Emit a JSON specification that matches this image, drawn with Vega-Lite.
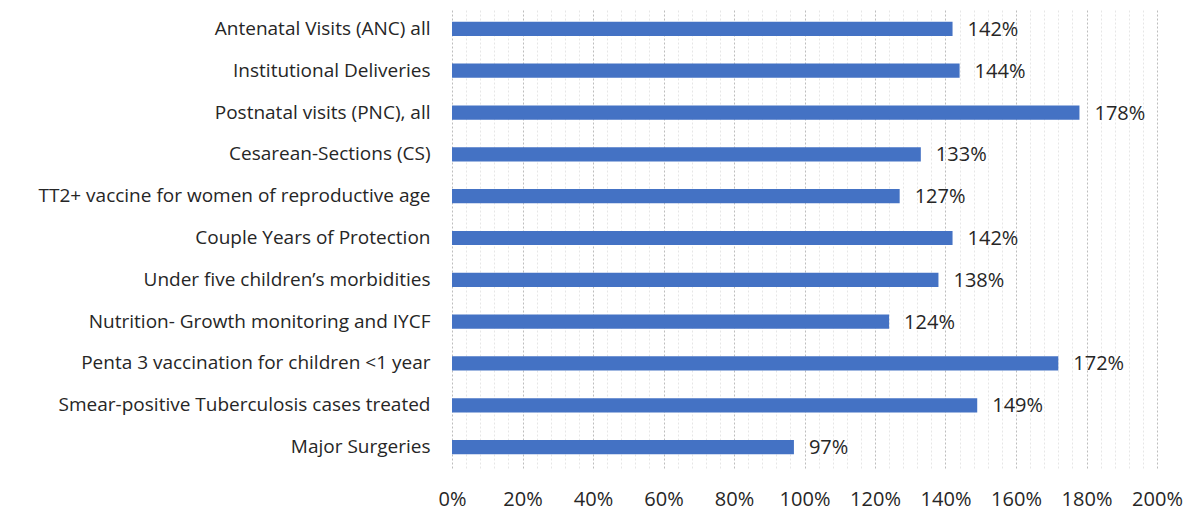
{
  "$schema": "https://vega.github.io/schema/vega-lite/v6.json",
  "width": 705,
  "height": 460,
  "autosize": {"type": "none"},
  "padding": {"left": 452, "top": 8, "right": 33, "bottom": 42},
  "background": "white",
  "config": {"view": {"stroke": null}, "font": "Open Sans"},
  "data": {"values": [
    {"cat": "Antenatal Visits (ANC) all", "v": 1.42},
    {"cat": "Institutional Deliveries ", "v": 1.44},
    {"cat": "Postnatal visits (PNC), all", "v": 1.78},
    {"cat": "Cesarean-Sections (CS)", "v": 1.33},
    {"cat": "TT2+ vaccine for women of reproductive age", "v": 1.27},
    {"cat": "Couple Years of Protection", "v": 1.42},
    {"cat": "Under five children’s morbidities", "v": 1.38},
    {"cat": "Nutrition- Growth monitoring and IYCF", "v": 1.24},
    {"cat": "Penta 3 vaccination for children <1 year", "v": 1.72},
    {"cat": "Smear-positive Tuberculosis cases treated", "v": 1.49},
    {"cat": "Major Surgeries", "v": 0.97}
  ]},
  "encoding": {
    "y": {"field": "cat", "type": "nominal", "sort": null,
      "scale": {"paddingInner": 0.66, "paddingOuter": 0.33},
      "axis": {"title": null, "domain": false, "ticks": false, "labelPadding": 22, "labelLimit": 600,
        "labelFontSize": 19, "labelColor": "#262626", "labelFont": "Open Sans"}},
    "x": {"field": "v", "type": "quantitative",
      "scale": {"domain": [0, 2], "nice": false},
      "axis": {"title": null, "domain": false, "ticks": false, "labelFlush": false, "labelOverlap": false,
        "values": [0,0.04,0.08,0.12,0.16,0.2,0.24,0.28,0.32,0.36,0.4,0.44,0.48,0.52,0.56,0.6,0.64,0.68,0.72,0.76,0.8,0.84,0.88,0.92,0.96,1,1.04,1.08,1.12,1.16,1.2,1.24,1.28,1.32,1.36,1.4,1.44,1.48,1.52,1.56,1.6,1.64,1.68,1.72,1.76,1.8,1.84,1.88,1.92,1.96,2],
        "labelExpr": "round(datum.value*100) % 20 === 0 ? format(datum.value, '.0%') : ''",
        "labelFontSize": 20, "labelColor": "#262626", "labelPadding": 21,
        "grid": true, "gridDash": [2, 2], "gridWidth": 1,
        "gridColor": {"condition": {"test": "round(datum.value*100) % 20 === 0", "value": "#bdbdbd"}, "value": "#e6e6e6"}}}
  },
  "layer": [
    {"mark": {"type": "bar", "color": "#4472C4"}},
    {"mark": {"type": "text", "align": "left", "baseline": "middle", "dx": 15, "dy": 1, "fontSize": 20, "color": "#262626"},
     "encoding": {"text": {"field": "v", "type": "quantitative", "format": ".0%"}}}
  ]
}
